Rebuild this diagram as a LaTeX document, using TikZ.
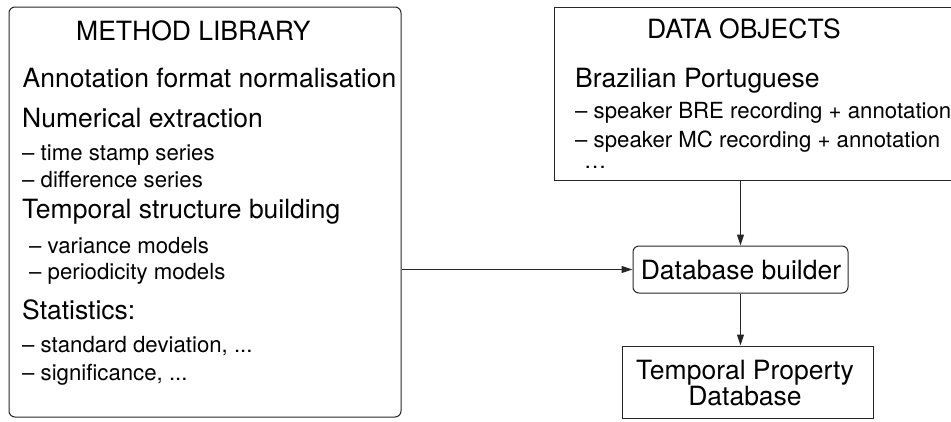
\documentclass[tikz,border=0pt]{standalone}
\usepackage{fontspec}
\setmainfont{TeX Gyre Heros}
\usetikzlibrary{arrows.meta}
\tikzset{
  big/.style={font=\fontsize{26.5}{26.5}\selectfont, inner sep=0pt, anchor=base west},
  small/.style={font=\fontsize{22.2}{22.2}\selectfont, inner sep=0pt, anchor=base west},
  boxline/.style={draw=black!85, line width=1pt},
  conn/.style={draw=black!85, line width=1pt, -{Triangle[length=11pt,width=7pt]}},
}
\begin{document}
\begin{tikzpicture}[x=1pt,y=-1pt]
\useasboundingbox (0,0) rectangle (951,421);
\clip (0,0) rectangle (951,421);
% boxes
\node[boxline, rounded corners=6pt, minimum width=392pt, minimum height=410pt, inner sep=0pt] (lib) at (205,212) {};
\node[boxline, minimum width=420pt, minimum height=173pt, inner sep=0pt] (data) at (764,93.5) {};
\node[boxline, rounded corners=6pt, minimum width=215pt, minimum height=47pt, inner sep=0pt] (db) at (740.5,269.5) {};
\node[boxline, minimum width=251pt, minimum height=72pt, inner sep=0pt] (tpd) at (747.5,382) {};
% left texts
\node[big] (t1) at (76,40) {METHOD LIBRARY};
\node[big] (t2) at (22.5,87) {Annotation format normalisation};
\node[big] (t3) at (22,127) {Numerical extraction};
\node[small] (t4) at (22,160) {– time stamp series};
\node[small] (t5) at (22,187) {– difference series};
\node[big] (t6) at (22,218) {Temporal structure building};
\node[small] (t7) at (29,253) {– variance models};
\node[small] (t8) at (29,279) {– periodicity models};
\node[big] (t9) at (22,319) {Statistics:};
\node[small] (t10) at (22,352) {– standard deviation, ...};
\node[small] (t11) at (22,380) {– significance, ...};
% right texts
\node[big] (r1) at (647,38) {DATA OBJECTS};
\node[big] (r2) at (575,87) {Brazilian Portuguese};
\node[small] (r3) at (575,118) {– speaker BRE recording + annotation};
\node[small] (r4) at (575,147) {– speaker MC recording + annotation};
\node[small] (r5) at (584,168) {…};
% db texts
\node[big, anchor=base] (dbt) at (741,279) {Database builder};
\node[big, anchor=base] (tp1) at (745,379) {Temporal Property};
\node[big, anchor=base] (tp2) at (745,405) {Database};
% connectors
\draw[conn] (db.west -| lib.east) -- (db.west);
\draw[conn] (db.north |- data.south) -- (db.north);
\draw[conn] (db.south) -- (db.south |- tpd.north);
\end{tikzpicture}
\end{document}
